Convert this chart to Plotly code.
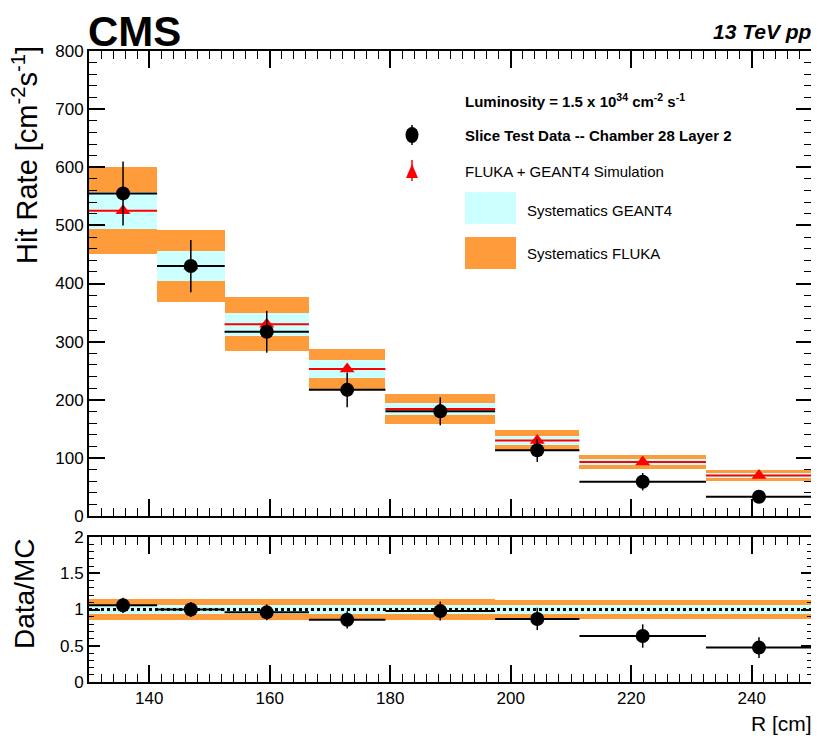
import plotly.graph_objects as go
from plotly.subplots import make_subplots

# ---------------- data ----------------
r_edges = [130.0, 141.3, 152.5, 166.5, 179.2, 197.4, 211.4, 232.4, 250.0]
data_rate = [555, 430, 317, 217, 180, 113, 59, 33]
data_err = [55, 45, 36, 30, 24, 20, 15, 10]
mc_rate = [525, 430, 330, 253, 184, 130, 93, 69.5]
sys_geant4 = [32, 25.5, 19.5, 15, 10.5, 7.5, 5.5, 4.3]
sys_fluka = [75, 62, 46.5, 35, 25.5, 17.5, 12.4, 9.0]

R_RANGE = [130, 250]
RATE_RANGE = [0, 800]
RATIO_RANGE = [0, 2]
RATIO_REF = 1.0

# ---------------- derived ----------------
centers = [(a + b) / 2 for a, b in zip(r_edges[:-1], r_edges[1:])]
widths = [b - a for a, b in zip(r_edges[:-1], r_edges[1:])]
halfw = [w / 2 for w in widths]
ratio = [d / m for d, m in zip(data_rate, mc_rate)]
ratio_err = [e / m for e, m in zip(data_err, mc_rate)]
rel_g4 = [s / m for s, m in zip(sys_geant4, mc_rate)]
rel_fl = [s / m for s, m in zip(sys_fluka, mc_rate)]

ORANGE = "rgb(254,155,58)"
CYAN = "rgb(204,255,255)"
FONT = "Liberation Sans, Arial, Helvetica, sans-serif"

# page body has an 8px margin: the figure is shifted by OFF px
OFF = 8
W, H = 819 - OFF, 751 - OFF
PLOT_L, PLOT_R, PLOT_T, PLOT_B = 89, 812, 51, 682   # in reference-picture pixels
L, R = PLOT_L - OFF, W - (PLOT_R - OFF)
T, B = PLOT_T - OFF, H - (PLOT_B - OFF)
PW, PH = PLOT_R - PLOT_L, PLOT_B - PLOT_T


def px(xp):
    return (xp - PLOT_L) / PW


def py(yp):
    return (PLOT_B - yp) / PH


fig = make_subplots(rows=2, cols=1, shared_xaxes=True, vertical_spacing=0.0)

# ---- top panel ----
fig.add_trace(go.Bar(x=centers, width=widths, base=[m - s for m, s in zip(mc_rate, sys_fluka)],
                     y=[2 * s for s in sys_fluka], marker=dict(color=ORANGE, line=dict(width=0)),
                     showlegend=False, hoverinfo="skip"), row=1, col=1)
fig.add_trace(go.Bar(x=centers, width=widths, base=[m - s for m, s in zip(mc_rate, sys_geant4)],
                     y=[2 * s for s in sys_geant4], marker=dict(color=CYAN, line=dict(width=0)),
                     showlegend=False, hoverinfo="skip"), row=1, col=1)
fig.add_trace(go.Scatter(x=centers, y=mc_rate, mode="markers",
                         marker=dict(symbol="triangle-up", size=13, color="red"),
                         error_x=dict(type="data", array=halfw, color="red", thickness=2, width=0),
                         showlegend=False), row=1, col=1)
fig.add_trace(go.Scatter(x=centers, y=data_rate, mode="markers",
                         marker=dict(symbol="circle", size=14, color="black"),
                         error_y=dict(type="data", array=data_err, color="black", thickness=1.5, width=0),
                         error_x=dict(type="data", array=halfw, color="black", thickness=2, width=0),
                         showlegend=False), row=1, col=1)

# ---- ratio panel ----
fig.add_trace(go.Bar(x=centers, width=widths, base=[RATIO_REF - s for s in rel_fl],
                     y=[2 * s for s in rel_fl], marker=dict(color=ORANGE, line=dict(width=0)),
                     showlegend=False, hoverinfo="skip"), row=2, col=1)
fig.add_trace(go.Bar(x=centers, width=widths, base=[RATIO_REF - s for s in rel_g4],
                     y=[2 * s for s in rel_g4], marker=dict(color=CYAN, line=dict(width=0)),
                     showlegend=False, hoverinfo="skip"), row=2, col=1)
fig.add_trace(go.Scatter(x=R_RANGE, y=[RATIO_REF, RATIO_REF], mode="lines",
                         line=dict(color="black", width=3, dash="dot"),
                         showlegend=False, hoverinfo="skip"), row=2, col=1)
fig.add_trace(go.Scatter(x=centers, y=ratio, mode="markers",
                         marker=dict(symbol="circle", size=14, color="black"),
                         error_y=dict(type="data", array=ratio_err, color="black", thickness=1.5, width=0),
                         error_x=dict(type="data", array=halfw, color="black", thickness=2, width=0),
                         showlegend=False), row=2, col=1)

tickfont = dict(family=FONT, size=17, color="black")
common_x = dict(range=R_RANGE, dtick=20, tick0=0, ticks="inside", ticklen=17, tickwidth=1.5,
                tickcolor="black", minor=dict(dtick=2, ticks="inside", ticklen=8, tickwidth=1.2, tickcolor="black"),
                showline=True, linecolor="black", linewidth=2, mirror="ticks",
                showgrid=False, zeroline=False, tickfont=tickfont)
fig.update_xaxes(**common_x)
fig.update_xaxes(showticklabels=False, row=1, col=1)
fig.update_yaxes(range=RATE_RANGE, dtick=100, tick0=0, ticks="inside", ticklen=16, tickwidth=1.5,
                 tickcolor="black", minor=dict(dtick=20, ticks="inside", ticklen=8, tickwidth=1.2, tickcolor="black"),
                 showline=True, linecolor="black", linewidth=2, mirror="ticks",
                 showgrid=False, zeroline=False, tickfont=tickfont, domain=[py(516), 1.0], row=1, col=1)
fig.update_yaxes(range=RATIO_RANGE, dtick=0.5, tick0=0, ticks="inside", ticklen=11, tickwidth=1.5,
                 tickcolor="black", minor=dict(dtick=0.1, ticks="inside", ticklen=5, tickwidth=1.2, tickcolor="black"),
                 showline=True, linecolor="black", linewidth=2, mirror="ticks",
                 showgrid=False, zeroline=False, tickfont=tickfont, domain=[0.0, py(537)], row=2, col=1)

# ---- legend (drawn manually) ----
shapes = []
shapes.append(dict(type="line", xref="paper", yref="paper", x0=px(412), x1=px(412), y0=py(125), y1=py(145),
                   line=dict(color="black", width=1.5)))
shapes.append(dict(type="circle", xref="paper", yref="paper", x0=px(405.5), x1=px(418.5), y0=py(127), y1=py(143),
                   fillcolor="black", line=dict(color="black", width=0)))
shapes.append(dict(type="line", xref="paper", yref="paper", x0=px(412), x1=px(412), y0=py(160), y1=py(181),
                   line=dict(color="red", width=1.5)))
shapes.append(dict(type="path", xref="paper", yref="paper",
                   path="M {} {} L {} {} L {} {} Z".format(px(406), py(178), px(418), py(178), px(412), py(164)),
                   fillcolor="red", line=dict(color="red", width=0)))
shapes.append(dict(type="rect", xref="paper", yref="paper", x0=px(465), x1=px(516), y0=py(224), y1=py(192),
                   fillcolor=CYAN, line=dict(width=0)))
shapes.append(dict(type="rect", xref="paper", yref="paper", x0=px(465), x1=px(516), y0=py(269), y1=py(237),
                   fillcolor=ORANGE, line=dict(width=0)))

ann = []


def text(t, x, y, size, xanchor="left", yanchor="middle", angle=0):
    ann.append(dict(text=t, xref="paper", yref="paper", x=px(x), y=py(y), xanchor=xanchor, yanchor=yanchor,
                    showarrow=False, textangle=angle, font=dict(family=FONT, size=size, color="black")))


text("<b>Luminosity = 1.5 x 10<sup>34</sup> cm<sup>-2</sup> s<sup>-1</sup></b>", 463, 100, 15)
text("<b>Slice Test Data -- Chamber 28 Layer 2</b>", 463, 135, 15)
text("FLUKA + GEANT4 Simulation", 463, 171, 15)
text("Systematics GEANT4", 525, 210, 15)
text("Systematics FLUKA", 525, 253, 15)

text("<b>CMS</b>", 86, 32, 42)
text("<b><i>13 TeV pp</i></b>", 814, 32, 21, xanchor="right")
text("Hit Rate [cm<sup>-2</sup>s<sup>-1</sup>]", 25, 44, 29, xanchor="center", yanchor="top", angle=-90)
text("Data/MC", 24, 537, 28, xanchor="center", yanchor="top", angle=-90)
text("R [cm]", 814, 724, 21, xanchor="right")

fig.update_layout(width=W, height=H, margin=dict(l=L, r=R, t=T, b=B, autoexpand=False),
                  paper_bgcolor="white", plot_bgcolor="white", barmode="overlay", bargap=0,
                  shapes=shapes, annotations=ann, showlegend=False)

fig.write_html("out.html")
